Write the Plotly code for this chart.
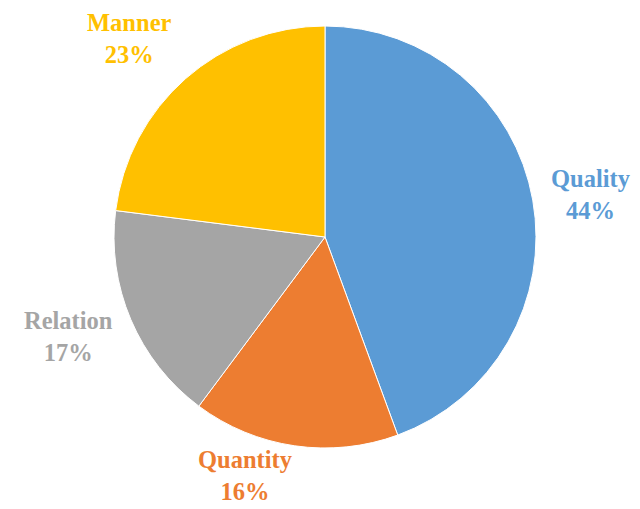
import math
import plotly.graph_objects as go

categories = ["Quality", "Quantity", "Relation", "Manner"]
values = [44.4, 15.8, 16.8, 23.0]
colors = ["#5B9BD5", "#ED7D31", "#A5A5A5", "#FFC000"]

W, H = 640, 509
# page is offset by the default 8px body margin
off = 8
cx, cy, r = 325 - off, 237 - off, 211
side_k = 1.08    # label distance for labels on the left/right
pole_k = 0.99    # label distance for labels near top/bottom

fig = go.Figure(go.Pie(
    labels=categories,
    values=values,
    sort=False,
    direction="clockwise",
    rotation=0,
    marker=dict(colors=colors, line=dict(color="white", width=1)),
    textinfo="none",
    hoverinfo="label+percent",
    showlegend=False,
    domain=dict(x=[(cx - r) / W, (cx + r) / W], y=[1 - (cy + r) / H, 1 - (cy - r) / H]),
))

total = sum(values)
cum = 0.0
annotations = []
for cat, v, col in zip(categories, values, colors):
    mid = (cum + v / 2) / total * 2 * math.pi
    cum += v
    s, c = math.sin(mid), math.cos(mid)
    xa = "left" if s > 0.1 else ("right" if s < -0.1 else "center")
    ya = "bottom" if c > 0.5 else ("top" if c < -0.5 else "middle")
    k = pole_k if abs(c) > 0.9 else side_k
    px = cx + k * r * s
    py = cy - k * r * c
    ysh = 0
    if ya == "middle":
        ysh = c * abs(c) * 70
    elif ya == "bottom":
        ysh = -4
    pct = round(v / total * 100)
    annotations.append(dict(
        x=px / W, y=1 - py / H, xref="paper", yref="paper",
        text=f"<b>{cat}<br>{pct}%</b>", showarrow=False,
        xanchor=xa, yanchor=ya, align="center", yshift=ysh,
        font=dict(family="Times New Roman", size=24.5, color=col),
    ))

fig.update_layout(
    width=W, height=H,
    margin=dict(l=0, r=0, t=0, b=0),
    paper_bgcolor="white",
    plot_bgcolor="white",
    annotations=annotations,
)
fig.write_html("out.html")
